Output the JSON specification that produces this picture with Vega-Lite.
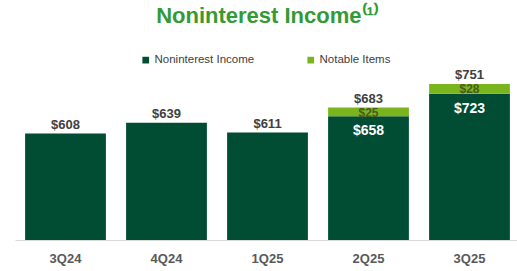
{
  "$schema": "https://vega.github.io/schema/vega-lite/v6.json",
  "autosize": {"type": "none"},
  "padding": {"left": 15, "top": 81, "right": 0, "bottom": 31},
  "width": 505,
  "height": 159,
  "background": "white",
  "title": {
    "text": "Noninterest Income⁽¹⁾",
    "font": "Liberation Sans",
    "fontSize": 22,
    "fontWeight": "bold",
    "color": "#349a34",
    "anchor": "middle",
    "frame": "group",
    "offset": 26
  },
  "data": {
    "values": [
      {"quarter": "3Q24", "series": "Noninterest Income", "value": 608, "total": 608},
      {"quarter": "4Q24", "series": "Noninterest Income", "value": 639, "total": 639},
      {"quarter": "1Q25", "series": "Noninterest Income", "value": 611, "total": 611},
      {"quarter": "2Q25", "series": "Noninterest Income", "value": 658, "total": 683},
      {"quarter": "2Q25", "series": "Notable Items", "value": 25, "total": 683},
      {"quarter": "3Q25", "series": "Noninterest Income", "value": 723, "total": 751},
      {"quarter": "3Q25", "series": "Notable Items", "value": 28, "total": 751}
    ]
  },
  "encoding": {
    "x": {
      "field": "quarter",
      "type": "nominal",
      "sort": null,
      "scale": {"paddingInner": 0.2, "paddingOuter": 0.1},
      "axis": {
        "title": null,
        "labelAngle": 0,
        "ticks": false,
        "domainColor": "#d9d9d9",
        "labelFont": "Liberation Sans",
        "labelFontSize": 13,
        "labelFontWeight": "bold",
        "labelColor": "#595959",
        "labelPadding": 12
      }
    }
  },
  "layer": [
    {
      "mark": {"type": "bar", "clip": true},
      "encoding": {
        "y": {
          "field": "value",
          "type": "quantitative",
          "stack": "zero",
          "scale": {"domain": [300, 760], "zero": false, "nice": false},
          "axis": null
        },
        "color": {
          "field": "series",
          "type": "nominal",
          "scale": {"domain": ["Noninterest Income", "Notable Items"], "range": ["#004d33", "#7ab51d"]},
          "legend": {
            "title": null,
            "orient": "none",
            "legendX": 125,
            "legendY": -27,
            "direction": "horizontal",
            "symbolType": "square",
            "symbolSize": 45,
            "symbolStrokeWidth": 0,
            "labelFont": "Liberation Sans",
            "labelFontSize": 11.5,
            "labelColor": "#404040",
            "columnPadding": 50,
            "labelOffset": 3
          }
        },
        "order": {"field": "series", "sort": "ascending"}
      }
    },
    {
      "transform": [{"filter": "datum.series == 'Noninterest Income'"}],
      "mark": {"type": "text", "baseline": "alphabetic", "dy": -5, "font": "Liberation Sans", "fontSize": 13, "fontWeight": "bold", "color": "#404040"},
      "encoding": {
        "y": {"field": "total", "type": "quantitative"},
        "text": {"field": "total", "type": "quantitative", "format": "$.0f"}
      }
    },
    {
      "transform": [{"filter": "datum.series == 'Noninterest Income' && datum.total != datum.value"}],
      "mark": {"type": "text", "baseline": "middle", "dy": 15, "font": "Liberation Sans", "fontSize": 14, "fontWeight": "bold", "color": "white"},
      "encoding": {
        "y": {"field": "value", "type": "quantitative"},
        "text": {"field": "value", "type": "quantitative", "format": "$.0f"}
      }
    },
    {
      "transform": [{"filter": "datum.series == 'Notable Items'"}],
      "mark": {"type": "text", "baseline": "middle", "dy": 5, "font": "Liberation Sans", "fontSize": 12, "fontWeight": "bold", "color": "#4b5a1e"},
      "encoding": {
        "y": {"field": "total", "type": "quantitative"},
        "text": {"field": "value", "type": "quantitative", "format": "$.0f"}
      }
    }
  ],
  "config": {"view": {"stroke": null}}
}
